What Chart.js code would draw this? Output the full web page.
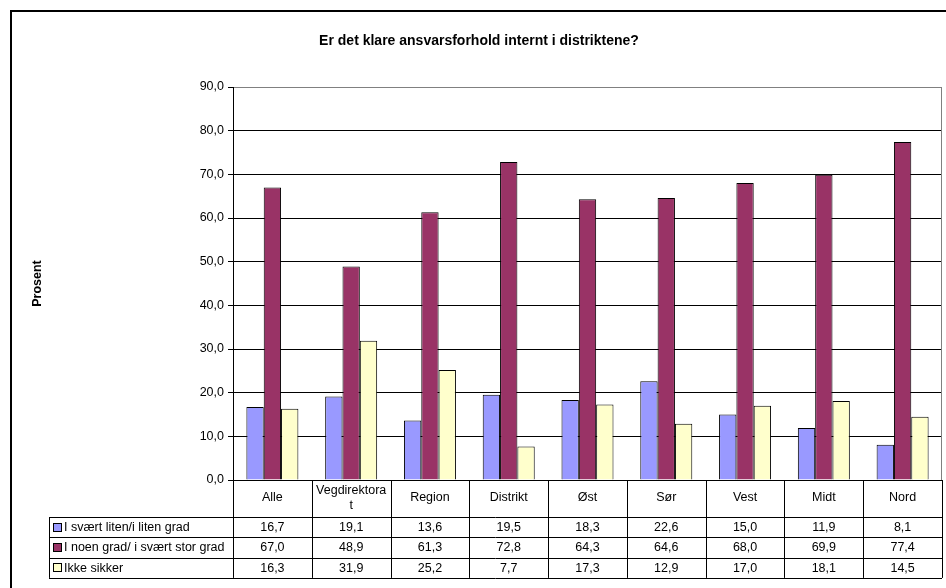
<!DOCTYPE html>
<html>
<head>
<meta charset="utf-8">
<script src="https://cdn.jsdelivr.net/npm/chart.js@4/dist/chart.umd.min.js"></script>
<style>
  body { margin: 0; background: #fff; }
  #wrap { width: 946px; height: 588px; }
</style>
</head>
<body>
<div id="wrap"><canvas id="grafico" width="946" height="588"></canvas></div>
<script>
// Data lest av fra figuren
const kategorier = ['Alle', ['Vegdirektora', 't'], 'Region', 'Distrikt', 'Øst', 'Sør', 'Vest', 'Midt', 'Nord'];
const serieNavn = ['I svært liten/i liten grad', 'I noen grad/ i svært stor grad', 'Ikke sikker'];
const litenGrad = [16.7, 19.1, 13.6, 19.5, 18.3, 22.6, 15.0, 11.9, 8.1];
const noenGrad = [67.0, 48.9, 61.3, 72.8, 64.3, 64.6, 68.0, 69.9, 77.4];
const ikkeSikker = [16.3, 31.9, 25.2, 7.7, 17.3, 12.9, 17.0, 18.1, 14.5];
const yTicks = [0, 10, 20, 30, 40, 50, 60, 70, 80, 90];
const farger = ['#9999FF', '#993366', '#FFFFCC'];

const fmt = v => v.toFixed(1).replace('.', ',');
const FONT = 'Arial, "Liberation Sans", sans-serif';
const STR = 12.5;

Chart.defaults.font.family = FONT;
Chart.defaults.color = '#000';

// Ramme og tittel
const rammePlugin = {
    id: 'ramme',
    beforeDraw(chart) {
        const ctx = chart.ctx;
        ctx.save();
        ctx.strokeStyle = '#000';
        ctx.lineWidth = 2;
        ctx.beginPath();
        ctx.moveTo(11, 588);
        ctx.lineTo(11, 11);
        ctx.lineTo(946, 11);
        ctx.stroke();
        ctx.fillStyle = '#000';
        ctx.font = 'bold 14px ' + FONT;
        ctx.textAlign = 'center';
        ctx.textBaseline = 'middle';
        ctx.fillText('Er det klare ansvarsforhold internt i distriktene?', 479, 41);
        ctx.restore();
    }
};

// Datatabell under diagrammet
const tabellPlugin = {
    id: 'tabell',
    afterDraw(chart) {
        const ctx = chart.ctx;
        const { left, right, top, bottom } = chart.chartArea;
        const xs = chart.scales.x;
        const n = kategorier.length;
        const colW = (right - left) / n;
        const headerH = 37;
        const rowH = 20.3;
        const tabLeft = 49;
        const end = bottom + headerH + 3 * rowH;
        const rader = [litenGrad, noenGrad, ikkeSikker];

        ctx.save();
        // høyre kant av plottet
        ctx.strokeStyle = '#808080';
        ctx.lineWidth = 1;
        ctx.beginPath();
        ctx.moveTo(Math.round(right) - 0.5, top);
        ctx.lineTo(Math.round(right) - 0.5, bottom);
        ctx.stroke();

        ctx.strokeStyle = '#000';
        ctx.beginPath();
        for (let i = 0; i <= n; i++) {
            const x = Math.round(left + i * colW) + 0.5;
            ctx.moveTo(x, bottom);
            ctx.lineTo(x, end);
        }
        ctx.moveTo(tabLeft + 0.5, bottom + headerH);
        ctx.lineTo(tabLeft + 0.5, end);
        for (let k = 0; k <= 3; k++) {
            const y = Math.round(bottom + headerH + k * rowH) + 0.5;
            ctx.moveTo(tabLeft, y);
            ctx.lineTo(right, y);
        }
        ctx.stroke();

        ctx.fillStyle = '#000';
        ctx.font = STR + 'px ' + FONT;
        ctx.textAlign = 'center';
        ctx.textBaseline = 'middle';
        kategorier.forEach((kat, i) => {
            const x = xs.getPixelForValue(i);
            const linjer = Array.isArray(kat) ? kat : [kat];
            const y0 = bottom + 18 - (linjer.length - 1) * 7.5;
            linjer.forEach((l, j) => ctx.fillText(l, x, y0 + j * 15));
        });

        rader.forEach((rad, k) => {
            const yc = bottom + headerH + k * rowH + rowH / 2 + 0.5;
            rad.forEach((v, i) => {
                ctx.fillText(fmt(v), xs.getPixelForValue(i), yc);
            });
            // forklaring
            ctx.fillStyle = farger[k];
            ctx.fillRect(53.5, Math.round(yc) - 4.5, 8, 8);
            ctx.strokeStyle = '#000';
            ctx.strokeRect(53.5, Math.round(yc) - 4.5, 8, 8);
            ctx.fillStyle = '#000';
            ctx.textAlign = 'left';
            ctx.fillText(serieNavn[k], 64, yc);
            ctx.textAlign = 'center';
        });
        ctx.restore();
    }
};

new Chart(document.getElementById('grafico').getContext('2d'), {
    type: 'bar',
    data: {
        labels: kategorier,
        datasets: [litenGrad, noenGrad, ikkeSikker].map((d, k) => ({
            label: serieNavn[k],
            data: d,
            backgroundColor: farger[k],
            borderColor: '#000',
            borderWidth: 1,
            categoryPercentage: 0.66,
            barPercentage: 1
        }))
    },
    options: {
        responsive: false,
        animation: false,
        layout: { padding: { left: 0, right: 4, top: 87, bottom: 108 } },
        plugins: {
            legend: { display: false },
            tooltip: { enabled: false },
            title: { display: false }
        },
        scales: {
            x: {
                ticks: { display: false },
                grid: { display: false },
                border: { color: '#000' },
                afterFit: s => { s.height = 0; }
            },
            y: {
                min: 0,
                max: 90,
                afterBuildTicks: s => { s.ticks = yTicks.map(v => ({ value: v })); },
                afterFit: s => { s.width = 233; },
                ticks: {
                    padding: 4,
                    font: { size: STR },
                    callback: v => fmt(v)
                },
                grid: {
                    color: c => (c.tick && c.tick.value === 90) ? '#808080' : '#000',
                    tickColor: '#000',
                    tickLength: 5
                },
                border: { color: '#000' },
                title: {
                    display: true,
                    text: 'Prosent',
                    font: { size: STR, weight: 'bold' },
                    padding: { top: 30, bottom: 0 }
                }
            }
        }
    },
    plugins: [rammePlugin, tabellPlugin]
});
</script>
</body>
</html>
